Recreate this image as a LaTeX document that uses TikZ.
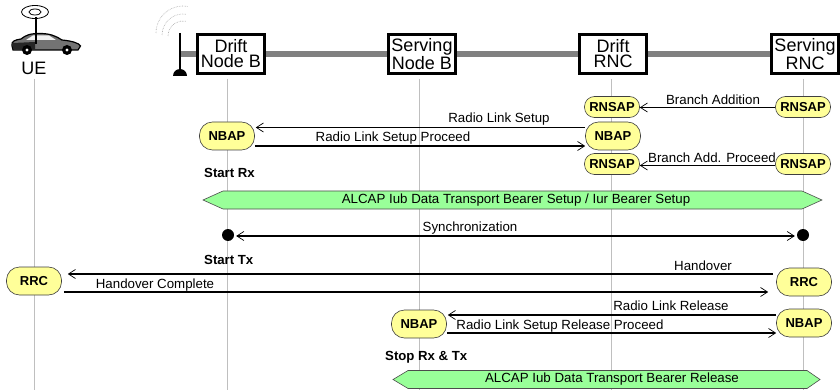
\documentclass[tikz,border=0pt]{standalone}
\usepackage{fontspec}
\setmainfont{Liberation Sans}
\usetikzlibrary{arrows.meta}
\definecolor{pill}{HTML}{FFFF99}
\definecolor{hexg}{HTML}{99FF99}
\tikzset{
 x=1pt,y=-1pt,
 title/.style={draw=black,line width=3pt,fill=white,minimum width=67pt,minimum height=39pt,inner sep=0pt,align=center,font=\fontsize{18}{15}\selectfont},
 proto/.style={draw=black!75,line width=.6pt,fill=pill,inner sep=0pt,minimum width=55pt,font=\fontsize{13}{13}\selectfont\bfseries},
 lowpill/.style={proto,rounded corners=10pt,minimum height=21pt},
 tallpill/.style={proto,rounded corners=13pt,minimum height=28pt},
 life/.style={draw=black!25,line width=.8pt},
 msg/.style={draw=black,line width=1.1pt,-{Straight Barb[length=7pt,width=9pt,line width=.7pt]}},
 lab/.style={font=\fontsize{13.3}{13}\selectfont,inner sep=0pt},
 note/.style={font=\fontsize{13.2}{13}\selectfont\bfseries,inner sep=0pt,anchor=west},
 hexa/.style={draw=black!70,line width=.6pt,fill=hexg},
 wave/.style={draw=black!35,line width=.6pt,densely dotted},
}
\begin{document}
\begin{tikzpicture}
\useasboundingbox (0,0) rectangle (840,390);
\fill[white] (0,0) rectangle (840,390);
% backbone
\draw[draw=black!50,line width=5.5pt] (180,54) -- (840,54);
% lifelines
\coordinate (l1a) at (34,79); \coordinate (l1b) at (34,390);
\coordinate (l2a) at (227,79); \coordinate (l2b) at (227,390);
\coordinate (l3a) at (419,79); \coordinate (l3b) at (419,390);
\coordinate (l4a) at (611,79); \coordinate (l4b) at (611,390);
\coordinate (l5a) at (803,79); \coordinate (l5b) at (803,390);
\foreach \i in {1,...,5} \draw[life] (l\i a) -- (l\i b);
% car
\draw[line width=.8pt] (35,12) ellipse (13.5 and 6.5);
\draw[line width=.8pt] (35,12) ellipse (6 and 3);
\fill[black!55,draw=black,line width=1.2pt] (12,46) .. controls (11,41) and (15,40) .. (21,39)
 .. controls (26,35) and (30,33.5) .. (40,33.5) .. controls (50,33.5) and (56,36) .. (62,40)
 .. controls (72,41) and (79,43) .. (80.5,46) -- (78,50) -- (13,50) -- cycle;
\fill[black!5] (26,40) -- (33,35.5) -- (49,35.5) -- (56,40) -- cycle;
\fill[black!85] (13,43) -- (35,42) -- (35,49) -- (13,49) -- cycle;
\fill[black] (27,50) circle (5) (67,50) circle (5);
\fill[white] (27,50) circle (1.6) (67,50) circle (1.6);
\draw[line width=2pt] (35.5,17) -- (35.5,44);
\node[inner sep=0pt,font=\fontsize{18}{18}\selectfont] (ue) at (34,68) {UE};
% tower
\draw[line width=1.5pt] (180,33) -- (180,73);
\fill (173,76) arc[start angle=180,end angle=360,radius=7] -- cycle;
\draw[wave] (156,33) arc[start angle=180,end angle=280,radius=27];
\draw[wave] (162,35) arc[start angle=180,end angle=280,radius=21];
\draw[wave] (168,36) arc[start angle=180,end angle=280,radius=15];
% title boxes
\node[title] (dnb) at (231,54) {Drift\\Node B};
\node[title] (snb) at (422,54) {Serving\\Node B};
\node[title] (drnc) at (613,54) {Drift\\RNC};
\node[title] (srnc) at (805,54) {Serving\\RNC};
% pills
\node[lowpill] (r1) at (612,107) {RNSAP};
\node[lowpill] (r2) at (803,107) {RNSAP};
\node[tallpill] (n1) at (613,136) {NBAP};
\node[tallpill] (n2) at (227,136) {NBAP};
\node[lowpill] (r3) at (612,164) {RNSAP};
\node[lowpill] (r4) at (803,164) {RNSAP};
\node[tallpill] (u) at (34,281) {RRC};
\node[tallpill] (c) at (804,282) {RRC};
\node[tallpill] (n3) at (419,324) {NBAP};
\node[tallpill] (n4) at (804,323) {NBAP};
% dots
\node[circle,fill=black,inner sep=0pt,minimum size=12pt] (d1) at (228,235) {};
\node[circle,fill=black,inner sep=0pt,minimum size=12pt] (d2) at (803,235) {};
% messages
\draw[msg] (r2.west |- 0,107.5) -- (r1.east |- 0,107.5);
\draw[msg] (n1.west |- 0,127.5) -- ([xshift=1pt]n2.east |- 0,127.5);
\draw[msg] (n2.east |- 0,146) -- (n1.west |- 0,146);
\draw[msg] (r4.west |- 0,165.5) -- (r3.east |- 0,165.5);
\draw[msg,{Straight Barb[length=7pt,width=9pt,line width=.7pt]}-{Straight Barb[length=7pt,width=9pt,line width=.7pt]}] ([xshift=2pt]d1.east |- 0,236) -- ([xshift=-2pt]d2.west |- 0,236);
\draw[msg] ([xshift=-3pt]c.west |- 0,274) -- ([xshift=6pt]u.east |- 0,274);
\draw[msg] ([xshift=2pt]u.east |- 0,292) -- ([xshift=-8pt]c.west |- 0,292);
\draw[msg] (n4.west |- 0,315) -- ([xshift=1pt]n3.east |- 0,315);
\draw[msg] (n3.east |- 0,333) -- (n4.west |- 0,333);
% message labels
\node[lab] (t1) at (713,100) {Branch Addition};
\node[lab] (t2) at (499,119) {Radio Link Setup};
\node[lab] (t3) at (393,138) {Radio Link Setup Proceed};
\node[lab] (t4) at (712,158) {Branch Add. Proceed};
\node[lab] (t5) at (470,228) {Synchronization};
\node[lab] (t6) at (703,266) {Handover};
\node[lab] (t7) at (155,285) {Handover Complete};
\node[lab] (t8) at (671,306) {Radio Link Release};
\node[lab] (t9) at (560,326) {Radio Link Setup Release Proceed};
% notes
\node[note] (s1) at (204,173) {Start Rx};
\node[note] (s2) at (204,260) {Start Tx};
\node[note] (s3) at (385,357) {Stop Rx \& Tx};
% hexes
\draw[hexa] (203,200) -- (223,191) -- (802,191) -- (822,200) -- (802,209) -- (223,209) -- cycle;
\node[lab] (h1) at (516,200) {ALCAP Iub Data Transport Bearer Setup / Iur Bearer Setup};
\draw[hexa] (393,379.5) -- (408,370.5) -- (807,370.5) -- (820,379.5) -- (807,388.5) -- (408,388.5) -- cycle;
\node[lab] (h2) at (612,379) {ALCAP Iub Data Transport Bearer Release};
\end{tikzpicture}
\end{document}
